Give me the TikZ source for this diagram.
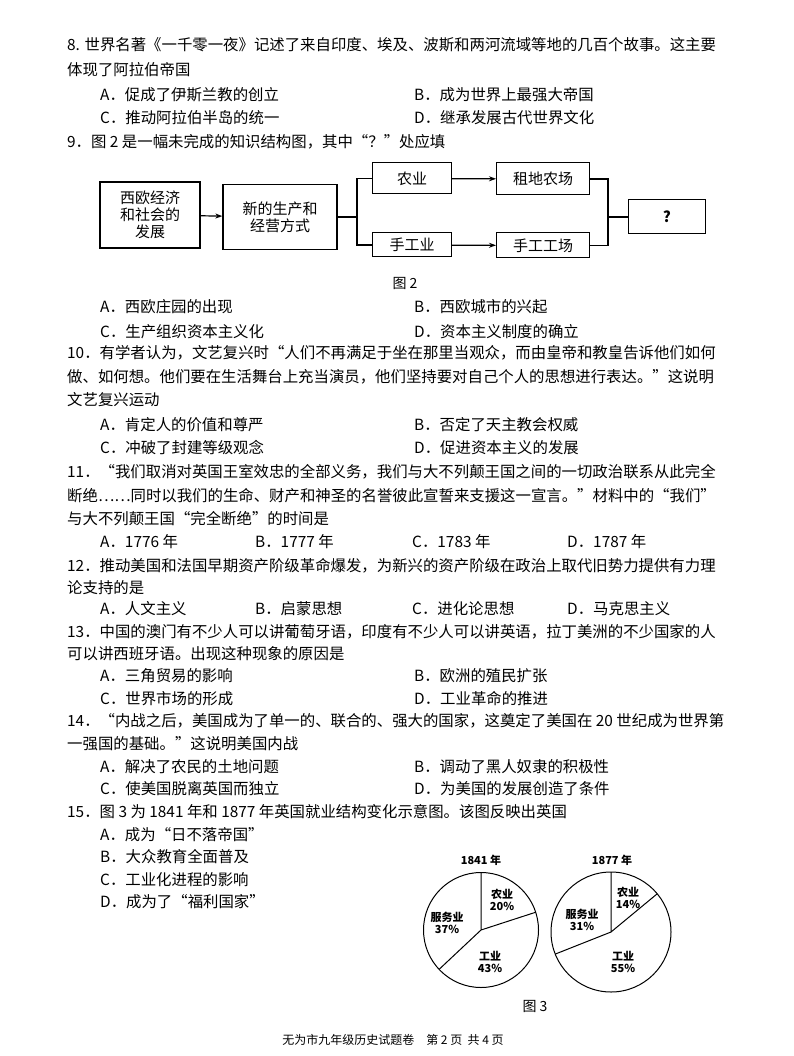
\documentclass[tikz,border=0pt]{standalone}
\usepackage{fontspec}
\setmainfont{Noto Sans CJK SC}
\usetikzlibrary{arrows.meta}
\begin{document}
\begin{tikzpicture}[x=1pt,y=-1pt,
  tl/.style={anchor=west,inner sep=0pt,font=\fontsize{15.4}{15}\selectfont},
  fb/.style={draw,line width=1pt,align=center,inner sep=0pt,font=\fontsize{15}{17}\selectfont},
  pl/.style={align=center,inner sep=0pt,font=\bfseries\fontsize{11}{12}\selectfont},
  ar/.style={line width=1.2pt,-{Stealth[length=7pt,width=5pt]}},
  ln/.style={line width=1.2pt}]
\useasboundingbox (0,0) rectangle (794,1056);
\fill[white] (0,0) rectangle (794,1056);
% text lines
\node[tl] (l1) at (67,45) {8. 世界名著《一千零一夜》记述了来自印度、埃及、波斯和两河流域等地的几百个故事。这主要};
\node[tl] (l2) at (67,70) {体现了阿拉伯帝国};
\node[tl] (l3) at (100,95) {A．促成了伊斯兰教的创立};
\node[tl] (l4) at (414,95) {B．成为世界上最强大帝国};
\node[tl] (l5) at (100,118) {C．推动阿拉伯半岛的统一};
\node[tl] (l6) at (414,118) {D．继承发展古代世界文化};
\node[tl] (l7) at (67,142) {9．图 2 是一幅未完成的知识结构图，其中“？”处应填};
\node[tl] (l8) at (100,307) {A．西欧庄园的出现};
\node[tl] (l9) at (414,307) {B．西欧城市的兴起};
\node[tl] (l10) at (100,332) {C．生产组织资本主义化};
\node[tl] (l11) at (414,332) {D．资本主义制度的确立};
\node[tl] (l12) at (67,353) {10．有学者认为，文艺复兴时“人们不再满足于坐在那里当观众，而由皇帝和教皇告诉他们如何};
\node[tl] (l13) at (67,377) {做、如何想。他们要在生活舞台上充当演员，他们坚持要对自己个人的思想进行表达。”这说明};
\node[tl] (l14) at (67,400) {文艺复兴运动};
\node[tl] (l15) at (100,425) {A．肯定人的价值和尊严};
\node[tl] (l16) at (414,425) {B．否定了天主教会权威};
\node[tl] (l17) at (100,448) {C．冲破了封建等级观念};
\node[tl] (l18) at (414,448) {D．促进资本主义的发展};
\node[tl] (l19) at (67,472) {11．“我们取消对英国王室效忠的全部义务，我们与大不列颠王国之间的一切政治联系从此完全};
\node[tl] (l20) at (67,496) {断绝……同时以我们的生命、财产和神圣的名誉彼此宣誓来支援这一宣言。”材料中的“我们”};
\node[tl] (l21) at (67,519) {与大不列颠王国“完全断绝”的时间是};
\node[tl] (l22) at (100,542) {A．1776 年};
\node[tl] (l23) at (255,542) {B．1777 年};
\node[tl] (l24) at (412,542) {C．1783 年};
\node[tl] (l25) at (567,542) {D．1787 年};
\node[tl] (l26) at (67,566) {12．推动美国和法国早期资产阶级革命爆发，为新兴的资产阶级在政治上取代旧势力提供有力理};
\node[tl] (l27) at (67,588) {论支持的是};
\node[tl] (l28) at (100,609) {A．人文主义};
\node[tl] (l29) at (255,609) {B．启蒙思想};
\node[tl] (l30) at (412,609) {C．进化论思想};
\node[tl] (l31) at (567,609) {D．马克思主义};
\node[tl] (l32) at (67,632) {13．中国的澳门有不少人可以讲葡萄牙语，印度有不少人可以讲英语，拉丁美洲的不少国家的人};
\node[tl] (l33) at (67,654) {可以讲西班牙语。出现这种现象的原因是};
\node[tl] (l34) at (100,676) {A．三角贸易的影响};
\node[tl] (l35) at (414,676) {B．欧洲的殖民扩张};
\node[tl] (l36) at (100,699) {C．世界市场的形成};
\node[tl] (l37) at (414,699) {D．工业革命的推进};
\node[tl] (l38) at (67,721) {14．“内战之后，美国成为了单一的、联合的、强大的国家，这奠定了美国在 20 世纪成为世界第};
\node[tl] (l39) at (67,744) {一强国的基础。”这说明美国内战};
\node[tl] (l40) at (100,767) {A．解决了农民的土地问题};
\node[tl] (l41) at (414,767) {B．调动了黑人奴隶的积极性};
\node[tl] (l42) at (100,789) {C．使美国脱离英国而独立};
\node[tl] (l43) at (414,789) {D．为美国的发展创造了条件};
\node[tl] (l44) at (67,812) {15．图 3 为 1841 年和 1877 年英国就业结构变化示意图。该图反映出英国};
\node[tl] (l45) at (100,835) {A．成为“日不落帝国”};
\node[tl] (l46) at (100,857) {B．大众教育全面普及};
\node[tl] (l47) at (100,880) {C．工业化进程的影响};
\node[tl] (l48) at (100,902) {D．成为了“福利国家”};
% figure 2
\node[fb,line width=1.6pt,minimum width=100pt,minimum height=66pt] (b1) at (150,215) {西欧经济\\和社会的\\发展};
\node[fb,line width=1.3pt,minimum width=114pt,minimum height=65pt] (b2) at (280,217) {新的生产和\\经营方式};
\node[fb,minimum width=79pt,minimum height=31pt] (ny) at (412,178.5) {农业};
\node[fb,minimum width=79pt,minimum height=24pt] (sg) at (412,245) {手工业};
\node[fb,minimum width=93pt,minimum height=32pt] (zd) at (543,179) {租地农场};
\node[fb,minimum width=93pt,minimum height=25pt] (sc) at (543,245.5) {手工工场};
\node[fb,minimum width=77pt,minimum height=34pt,font=\bfseries\fontsize{15}{17}\selectfont] (q) at (667,217) {?};
\coordinate (br) at (357,217);
\coordinate (jn) at (608,217);
\draw[ar] (b1) -- (b2);
\draw[ln] (b2) -- (br);
\draw[ln] (ny.west) -| (br) |- (sg.west);
\draw[ar] (ny) -- (zd);
\draw[ar] (sg) -- (sc);
\draw[ln] (zd.east) -| (jn) |- (sc.east);
\draw[ln] (jn) -- (q);
\node[font=\fontsize{14}{14}\selectfont] (f2) at (405,283) {图 2};
% figure 3
\coordinate (c1) at (481,930);
\coordinate (c2) at (611,932);
\draw[line width=1pt] (c1) circle[radius=57.5];
\draw[line width=1pt] (c1) -- ++(-90:57.5) (c1) -- ++(-18:57.5) (c1) -- ++(136.8:57.5);
\draw[line width=1pt] (c2) circle[radius=60];
\draw[line width=1pt] (c2) -- ++(-90:60) (c2) -- ++(-39.6:60) (c2) -- ++(158.4:60);
\node[pl] (t1) at (481,860) {1841 年};
\node[pl] (t2) at (612,860) {1877 年};
\node[pl] (p1) at (502,900) {农业\\20\%};
\node[pl] (p2) at (447,923) {服务业\\37\%};
\node[pl] (p3) at (490,962) {工业\\43\%};
\node[pl] (p4) at (628,898) {农业\\14\%};
\node[pl] (p5) at (582,920) {服务业\\31\%};
\node[pl] (p6) at (623,962) {工业\\55\%};
\node[font=\fontsize{14}{14}\selectfont] (f3) at (535,1006) {图 3};
\node[font=\fontsize{12}{12}\selectfont] (ft) at (393,1040) {无为市九年级历史试题卷\quad 第 2 页\ \ 共 4 页};
\end{tikzpicture}
\end{document}
